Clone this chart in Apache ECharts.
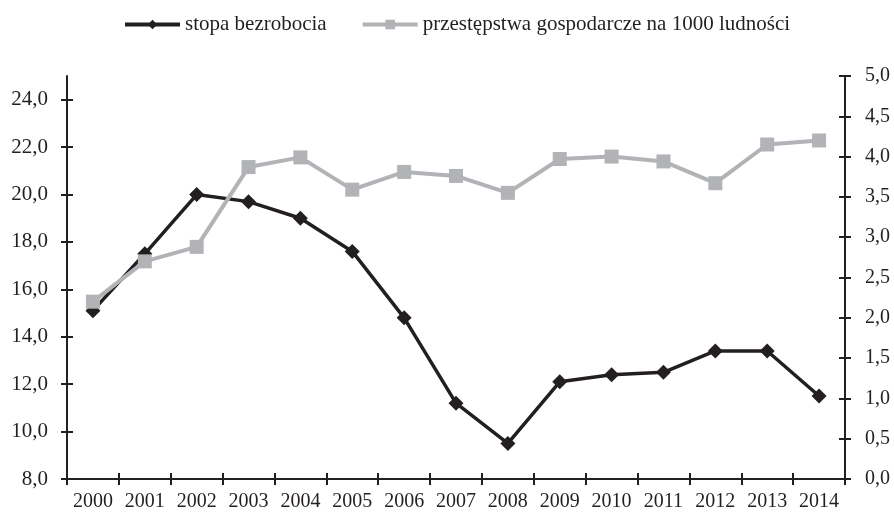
<!DOCTYPE html>
<html>
<head>
<meta charset="utf-8">
<script src="https://cdn.jsdelivr.net/npm/echarts@6/dist/echarts.min.js"></script>
<style>html,body{margin:0;padding:0;background:#fff}#c{width:894px;height:512px}</style>
</head>
<body>
<div id="c"></div>
<script>
var years = ['2000','2001','2002','2003','2004','2005','2006','2007','2008','2009','2010','2011','2012','2013','2014'];
var unemployment = [15.1, 17.5, 20.0, 19.7, 19.0, 17.6, 14.8, 11.2, 9.5, 12.1, 12.4, 12.5, 13.4, 13.4, 11.5];
var crimes = [2.2, 2.7, 2.88, 3.87, 3.99, 3.59, 3.81, 3.76, 3.55, 3.97, 4.0, 3.94, 3.67, 4.15, 4.2];
var leftTicks = [8, 10, 12, 14, 16, 18, 20, 22, 24];
var rightTicks = [0, 0.5, 1, 1.5, 2, 2.5, 3, 3.5, 4, 4.5, 5];

var BLACK = '#231f20', GRAY = '#b2b3b6';
var FONT = 'Liberation Serif';
function fmt(v){ return v.toFixed(1).replace('.', ','); }
var axisLine = {show:true, lineStyle:{color:BLACK, width:2}};

var chart = echarts.init(document.getElementById('c'));
chart.setOption({
  animation:false,
  backgroundColor:'#fff',
  textStyle:{fontFamily:FONT},
  legend:{
    top:9, left:118, itemWidth:55, itemHeight:12, itemGap:34,
    lineStyle:{width:4},
    textStyle:{fontFamily:FONT, fontSize:21, color:BLACK}
  },
  grid:{left:67, right:49, top:76, bottom:32, containLabel:false},
  xAxis:[
    {type:'category', data:years, boundaryGap:true,
     axisLine:axisLine,
     axisTick:{show:true, inside:false, length:6, alignWithLabel:false, lineStyle:{color:BLACK, width:2}},
     axisLabel:{fontFamily:FONT, fontSize:20, color:BLACK, margin:13, interval:0},
     splitLine:{show:false}},
    {type:'category', data:years, boundaryGap:true, position:'bottom',
     axisLine:{show:false},
     axisTick:{show:true, inside:true, length:6, lineStyle:{color:BLACK, width:2}},
     axisLabel:{show:false}, splitLine:{show:false}}
  ],
  yAxis:[
    {type:'value', position:'left', min:8, max:25, interval:2,
     axisLine:axisLine,
     axisTick:{show:true, inside:false, length:6, customValues:leftTicks, lineStyle:{color:BLACK, width:2}},
     axisLabel:{fontFamily:FONT, fontSize:21, color:BLACK, margin:19, customValues:leftTicks,
       formatter:function(v){ return v > 24 ? '' : fmt(v); }},
     splitLine:{show:false}},
    {type:'value', position:'right', min:0, max:5, interval:0.5,
     axisLine:axisLine,
     axisTick:{show:true, inside:false, length:6, customValues:rightTicks, lineStyle:{color:BLACK, width:2}},
     axisLabel:{fontFamily:FONT, fontSize:20, color:BLACK, margin:20, customValues:rightTicks,
       formatter:function(v){ return fmt(v); }},
     splitLine:{show:false}},
    {type:'value', position:'left', min:8, max:25, interval:2,
     axisLine:{show:false},
     axisTick:{show:true, inside:true, length:6, customValues:leftTicks, lineStyle:{color:BLACK, width:2}},
     axisLabel:{show:false}, splitLine:{show:false}},
    {type:'value', position:'right', min:0, max:5, interval:0.5,
     axisLine:{show:false},
     axisTick:{show:true, inside:true, length:6, customValues:rightTicks, lineStyle:{color:BLACK, width:2}},
     axisLabel:{show:false}, splitLine:{show:false}}
  ],
  series:[
    {name:'stopa bezrobocia', type:'line', data:unemployment, xAxisIndex:0, yAxisIndex:0,
     symbol:'diamond', symbolSize:15, showAllSymbol:true,
     lineStyle:{color:BLACK, width:3.5}, itemStyle:{color:BLACK}},
    {name:'przestępstwa gospodarcze na 1000 ludności', type:'line', data:crimes, xAxisIndex:0, yAxisIndex:1,
     symbol:'rect', symbolSize:14, showAllSymbol:true,
     lineStyle:{color:GRAY, width:4}, itemStyle:{color:GRAY}}
  ]
});
</script>
</body>
</html>
